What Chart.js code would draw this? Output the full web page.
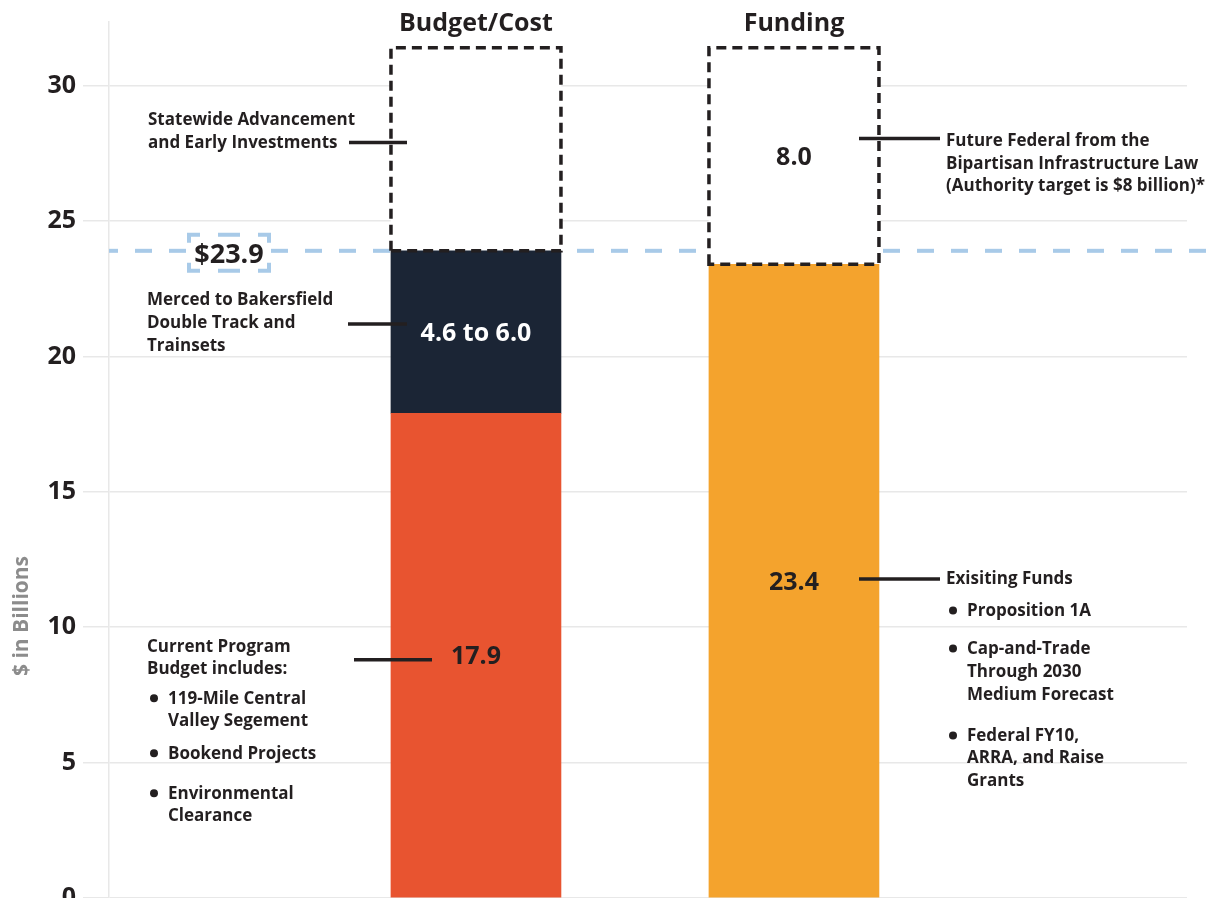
<!DOCTYPE html>
<html>
<head>
  <title>Budget/Cost vs Funding</title>
  <meta name="viewport" content="width=device-width, initial-scale=1.0">
  <script src="https://cdn.jsdelivr.net/npm/chart.js"></script>
  <style>
    html, body { margin: 0; padding: 0; background: #fff; overflow: hidden; }
    #wrap { width: 1210px; height: 940px; position: relative; }
  </style>
</head>
<body>
  <div id="wrap"><canvas id="costChart"></canvas></div>
  <script>
    // values in $ billions
    const categories = ['Budget/Cost', 'Funding'];
    const programBudget = [17.9, null];
    const mercedToBakersfield = [6.0, null];
    const existingFunds = [null, 23.4];
    const futureItems = [7.5, 8.0];
    const segmentLabels = [['17.9', null], ['4.6 to 6.0', null], [null, '23.4'], [null, '8.0']];
    const totalCost = 23.9;
    const totalLabel = '$23.9';
    const yStep = 5;
    const yMax = 32.35;

    const noteStatewide = ['Statewide Advancement', 'and Early Investments'];
    const noteMerced = ['Merced to Bakersfield', 'Double Track and', 'Trainsets'];
    const noteProgram = ['Current Program', 'Budget includes:'];
    const noteProgramItems = [['119-Mile Central', 'Valley Segement'], ['Bookend Projects'], ['Environmental', 'Clearance']];
    const noteFederal = ['Future Federal from the', 'Bipartisan Infrastructure Law', '(Authority target is $8 billion)*'];
    const noteExisting = ['Exisiting Funds'];
    const noteExistingItems = [['Proposition 1A'], ['Cap-and-Trade', 'Through 2030', 'Medium Forecast'], ['Federal FY10,', 'ARRA, and Raise', 'Grants']];

    const ink = '#231f20';
    const font = (size, weight) => weight + ' ' + size + 'px "Open Sans", sans-serif';

    // where each callout sits: leader height (in $B), leader x range, text x and line offsets
    const callouts = [
      { value: 27.9, lead: [349, 407], tx: 148, head: noteStatewide, headDy: [-18, 5], items: [], itemDy: [] },
      { value: 21.2, lead: [348, 407], tx: 147, head: noteMerced, headDy: [-19, 4, 27], items: [], itemDy: [] },
      { value: 8.8, lead: [354, 432], tx: 147, head: noteProgram, headDy: [-8, 14],
        items: noteProgramItems, itemDy: [[44, 66], [99], [139, 161]] },
      { value: 28.05, lead: [859, 940], tx: 946, head: noteFederal, headDy: [8, 31, 53], items: [], itemDy: [] },
      { value: 11.78, lead: [859, 940], tx: 946, head: noteExisting, headDy: [5],
        items: noteExistingItems, itemDy: [[37], [75, 98, 121], [162, 184, 207]] }
    ];

    const overlay = {
      id: 'overlay',
      beforeDatasetsDraw(chart) {
        const { ctx, chartArea, scales: { y } } = chart;
        const py = y.getPixelForValue(totalCost);
        ctx.save();
        ctx.strokeStyle = '#a8cae8';
        ctx.lineWidth = 4;
        ctx.setLineDash([17, 17]);
        ctx.lineDashOffset = 8;
        ctx.beginPath();
        ctx.moveTo(chartArea.left, py);
        ctx.lineTo(chart.width, py);
        ctx.stroke();
        ctx.restore();
      },
      afterDatasetsDraw(chart) {
        const { ctx, scales: { x, y } } = chart;
        ctx.save();

        // dashed outline on the future / statewide boxes
        chart.getDatasetMeta(3).data.forEach(el => {
          if (el.skip) return;
          const l = el.x - el.width / 2, r = el.x + el.width / 2;
          ctx.strokeStyle = ink;
          ctx.lineWidth = 3.5;
          ctx.setLineDash([10, 6]);
          ctx.beginPath();
          ctx.moveTo(l, el.base);
          ctx.lineTo(l, el.y);
          ctx.lineTo(r, el.y);
          ctx.lineTo(r, el.base);
          ctx.closePath();
          ctx.stroke();
        });
        ctx.setLineDash([]);

        // values inside the segments
        segmentLabels.forEach((labels, di) => {
          chart.getDatasetMeta(di).data.forEach((el, i) => {
            if (!labels[i] || el.skip) return;
            ctx.font = font(25, 700);
            ctx.fillStyle = di === 1 ? '#fff' : ink;
            ctx.textAlign = 'center';
            ctx.textBaseline = 'alphabetic';
            ctx.fillText(labels[i], el.x, (el.y + el.base) / 2 + 9);
          });
        });

        // column titles
        categories.forEach((c, i) => {
          ctx.font = font(25, 700);
          ctx.fillStyle = ink;
          ctx.textAlign = 'center';
          ctx.textBaseline = 'alphabetic';
          ctx.fillText(c, x.getPixelForValue(i), 31);
        });

        // $23.9 marker box
        const py = y.getPixelForValue(totalCost);
        const bx = 229, by = py + 2, hw = 40, hh = 18;
        ctx.fillStyle = '#fff';
        ctx.fillRect(bx - hw, by - hh, hw * 2, hh * 2);
        ctx.strokeStyle = '#a8cae8';
        ctx.lineWidth = 4;
        ctx.beginPath();
        [[-1, -1], [1, -1], [1, 1], [-1, 1]].forEach(([sx, sy]) => {
          const cx = bx + sx * hw, cy = by + sy * hh;
          ctx.moveTo(cx - sx * 11, cy);
          ctx.lineTo(cx, cy);
          ctx.lineTo(cx, cy - sy * 8);
        });
        ctx.moveTo(bx - 11, by - hh); ctx.lineTo(bx + 11, by - hh);
        ctx.moveTo(bx - 11, by + hh); ctx.lineTo(bx + 11, by + hh);
        ctx.stroke();
        ctx.font = font(27, 700);
        ctx.fillStyle = ink;
        ctx.textAlign = 'center';
        ctx.fillText(totalLabel, bx, by + 10);

        // callouts
        callouts.forEach(n => {
          const ly = y.getPixelForValue(n.value);
          ctx.strokeStyle = ink;
          ctx.lineWidth = 3.5;
          ctx.beginPath();
          ctx.moveTo(n.lead[0], ly);
          ctx.lineTo(n.lead[1], ly);
          ctx.stroke();
          ctx.font = font(17, 700);
          ctx.fillStyle = ink;
          ctx.textAlign = 'left';
          ctx.textBaseline = 'alphabetic';
          n.head.forEach((t, k) => ctx.fillText(t, n.tx, ly + n.headDy[k]));
          n.items.forEach((lines, k) => {
            lines.forEach((t, j) => ctx.fillText(t, n.tx + 21, ly + n.itemDy[k][j]));
            ctx.beginPath();
            ctx.arc(n.tx + 7, ly + n.itemDy[k][0] - 5.5, 4, 0, Math.PI * 2);
            ctx.fill();
          });
        });
        ctx.restore();
      },
      afterDraw(chart) {
        const { ctx } = chart;
        ctx.save();
        ctx.translate(22, 616);
        ctx.rotate(-Math.PI / 2);
        ctx.font = font(21, 700);
        ctx.fillStyle = '#8c8c8c';
        ctx.textAlign = 'center';
        ctx.textBaseline = 'middle';
        ctx.fillText('$ in Billions', 0, 0);
        ctx.restore();
      }
    };

    const toPoints = arr => arr.map((v, i) => ({ x: i, y: v }));

    new Chart(document.getElementById('costChart'), {
      type: 'bar',
      data: {
        datasets: [
          { label: 'Current Program Budget', data: toPoints(programBudget), backgroundColor: '#e85430' },
          { label: 'Merced to Bakersfield', data: toPoints(mercedToBakersfield), backgroundColor: '#1b2535' },
          { label: 'Existing Funds', data: toPoints(existingFunds), backgroundColor: '#f4a32d' },
          { label: 'Future', data: toPoints(futureItems), backgroundColor: '#fff' }
        ]
      },
      options: {
        responsive: true,
        maintainAspectRatio: false,
        animation: false,
        barThickness: 170,
        layout: { padding: { top: 19, right: 23, bottom: 42, left: 0 } },
        plugins: { legend: { display: false }, tooltip: { enabled: false } },
        scales: {
          x: {
            type: 'linear',
            min: -1.154,
            max: 2.236,
            offset: false,
            stacked: true,
            display: false
          },
          y: {
            stacked: true,
            min: 0,
            max: yMax,
            afterFit: axis => { axis.width = 109; },
            grid: { color: '#e8e8e8', lineWidth: 1.5, tickLength: 26 },
            border: { color: '#e8e8e8', width: 1.5 },
            ticks: {
              stepSize: yStep,
              includeBounds: false,
              padding: 7,
              color: ink,
              font: { family: '"Open Sans", sans-serif', size: 25, weight: 700 }
            }
          }
        }
      },
      plugins: [overlay]
    });
  </script>
</body>
</html>
